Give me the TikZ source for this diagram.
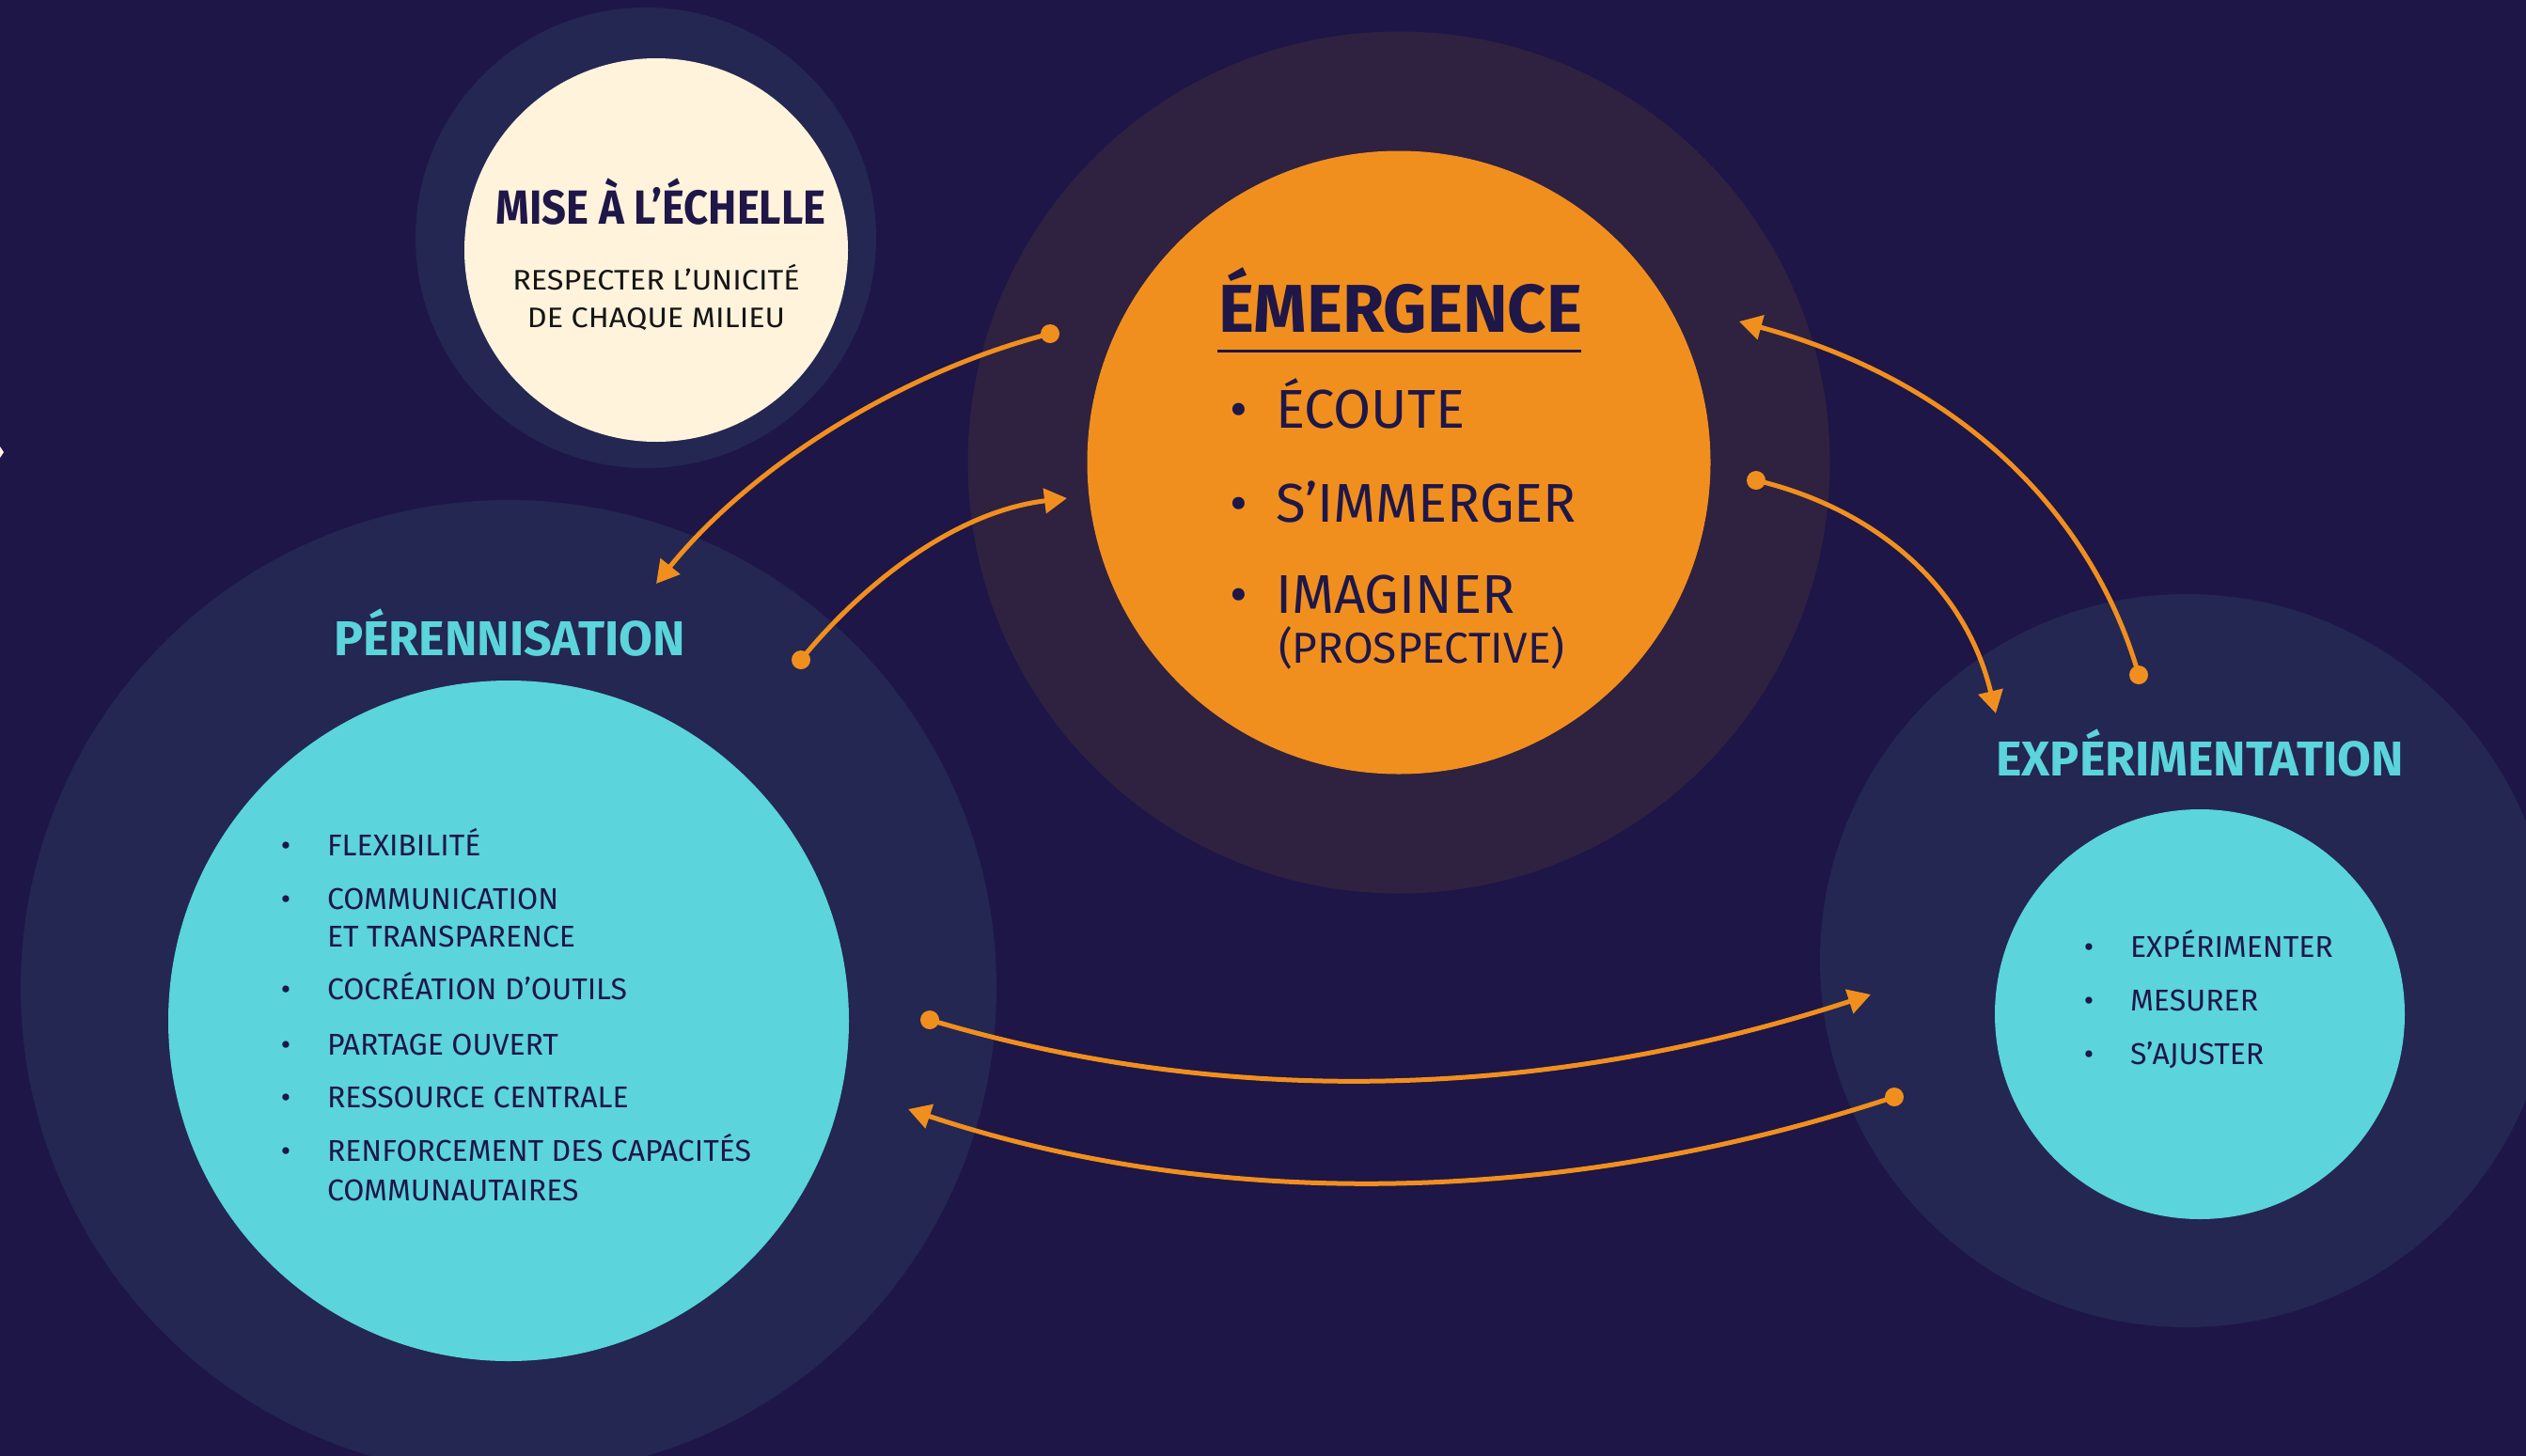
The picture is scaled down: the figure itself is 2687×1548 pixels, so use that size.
\documentclass[tikz,border=0pt]{standalone}
\usepackage{fontspec}
\setmainfont{Fira Sans}
\usetikzlibrary{arrows.meta}
\definecolor{bg}{HTML}{1D1647}
\definecolor{ringblue}{HTML}{232752}
\definecolor{ringpurple}{HTML}{2F2140}
\definecolor{cream}{HTML}{FFF3DC}
\definecolor{orangec}{HTML}{F18F1E}
\definecolor{cyanc}{HTML}{5BD4DB}
\definecolor{navytext}{HTML}{1E1748}
\definecolor{blacktext}{HTML}{151515}
\tikzset{
  disc/.style={circle, inner sep=0pt, outer sep=0pt, draw=none},
  dotnode/.style={circle, fill=orangec, inner sep=0pt, outer sep=0pt, minimum size=20pt},
  conn/.style={draw=orangec, line width=5pt, -{Triangle[length=24pt,width=26pt]}},
  lbl/.style={inner sep=0pt, outer sep=0pt, anchor=base west},
  clbl/.style={inner sep=0pt, outer sep=0pt, anchor=base},
  bigtitle/.style={clbl, text=cyanc, font=\bfseries\fontsize{52}{60}\selectfont},
  emitem/.style={lbl, text=navytext, font=\fontsize{58}{66}\selectfont},
  embul/.style={clbl, text=navytext, font=\fontsize{58}{66}\selectfont},
  smitem/.style={lbl, text=navytext, font=\fontsize{32}{38}\selectfont},
  smbul/.style={clbl, text=navytext, font=\fontsize{32}{38}\selectfont}
}
\begin{document}
\begin{tikzpicture}[x=1pt,y=-1pt]
\useasboundingbox (0,0) rectangle (2687,1548);
\fill[bg] (-20,-20) rectangle (2707,1568);
\fill[cream] (0,475) -- (4,481) -- (0,487) -- cycle;
% rings
\node[disc, fill=ringblue, minimum size=490pt] (misering) at (687,253) {};
\node[disc, fill=cream, minimum size=408pt] (mise) at (698,266) {};
\node[disc, fill=ringpurple, minimum size=917pt] (emring) at (1488,492) {};
\node[disc, fill=orangec, minimum size=663pt] (em) at (1488,492) {};
\node[disc, fill=ringblue, minimum size=1038pt] (perring) at (541,1051) {};
\node[disc, fill=cyanc, minimum size=724pt] (per) at (541,1086) {};
\node[disc, fill=ringblue, minimum size=780pt] (expring) at (2326,1022) {};
\node[disc, fill=cyanc, minimum size=436pt] (exp) at (2340,1079) {};
% Mise a l'echelle
\node[clbl, text=navytext, font=\bfseries\fontsize{51}{60}\selectfont] (misetitle) at (703,238) {\scalebox{0.89}[1]{MISE À L’ÉCHELLE}};
\node[clbl, text=blacktext, font=\fontsize{30}{36}\selectfont] (misel1) at (698,308) {\scalebox{1.08}[1]{RESPECTER L’UNICITÉ}};
\node[clbl, text=blacktext, font=\fontsize{30}{36}\selectfont] (misel2) at (698,348) {\scalebox{1.08}[1]{DE CHAQUE MILIEU}};
% Emergence
\node[lbl, text=navytext, font=\bfseries\fontsize{72}{80}\selectfont] (emtitle) at (1296,353) {ÉMERGENCE};
\coordinate (ula) at (1295,373);
\coordinate (ulb) at (1682,373);
\draw[navytext, line width=3pt] (ula) -- (ulb);
\node[embul] (eb1) at (1318,455) {•};
\node[emitem] (ei1) at (1357,455) {ÉCOUTE};
\node[embul] (eb2) at (1318,555) {•};
\node[emitem] (ei2) at (1357,555) {S’IMMERGER};
\node[embul] (eb3) at (1318,652) {•};
\node[emitem] (ei3) at (1357,652) {IMAGINER};
\node[lbl, text=navytext, font=\fontsize{46}{52}\selectfont] (ei4) at (1360,705) {(PROSPECTIVE)};
% Perennisation
\node[bigtitle] (pertitle) at (542,697) {PÉRENNISATION};
\node[smbul] (pb1) at (304,910) {•};
\node[smitem] (pi1) at (348,910) {FLEXIBILITÉ};
\node[smbul] (pb2) at (304,967) {•};
\node[smitem] (pi2) at (348,967) {COMMUNICATION};
\node[smitem] (pi2b) at (348,1007) {ET TRANSPARENCE};
\node[smbul] (pb3) at (304,1063) {•};
\node[smitem] (pi3) at (348,1063) {COCRÉATION D’OUTILS};
\node[smbul] (pb4) at (304,1122) {•};
\node[smitem] (pi4) at (348,1122) {PARTAGE OUVERT};
\node[smbul] (pb5) at (304,1178) {•};
\node[smitem] (pi5) at (348,1178) {RESSOURCE CENTRALE};
\node[smbul] (pb6) at (304,1235) {•};
\node[smitem] (pi6) at (348,1235) {RENFORCEMENT DES CAPACITÉS};
\node[smitem] (pi6b) at (348,1277) {COMMUNAUTAIRES};
% Experimentation
\node[bigtitle] (exptitle) at (2340,825) {EXPÉRIMENTATION};
\node[smbul] (xb1) at (2222,1018) {•};
\node[smitem] (xi1) at (2266,1018) {EXPÉRIMENTER};
\node[smbul] (xb2) at (2222,1075) {•};
\node[smitem] (xi2) at (2266,1075) {MESURER};
\node[smbul] (xb3) at (2222,1132) {•};
\node[smitem] (xi3) at (2266,1132) {S’AJUSTER};
% connectors
\node[dotnode] (d1) at (1117,355) {};
\coordinate (t1) at (698,621);
\node[dotnode] (d2) at (852,702) {};
\coordinate (t2) at (1135,530);
\node[dotnode] (d3) at (1868,511) {};
\coordinate (t3) at (2123,759);
\node[dotnode] (d4) at (2275,718) {};
\coordinate (t4) at (1850,342);
\node[dotnode] (d5) at (989,1085) {};
\coordinate (t5) at (1990,1058);
\node[dotnode] (d6) at (2015,1167) {};
\coordinate (t6) at (966,1180);
\draw[conn] (d1.center) .. controls (960,395) and (800,495) .. (t1);
\draw[conn] (d2.center) .. controls (910,630) and (1010,545) .. (t2);
\draw[conn] (d3.center) .. controls (1990,540) and (2090,620) .. (t3);
\draw[conn] (d4.center) .. controls (2230,560) and (2100,410) .. (t4);
\draw[conn] (d5.center) .. controls (1300,1178) and (1640,1172) .. (t5);
\draw[conn] (d6.center) .. controls (1650,1288) and (1280,1285) .. (t6);
\end{tikzpicture}
\end{document}
